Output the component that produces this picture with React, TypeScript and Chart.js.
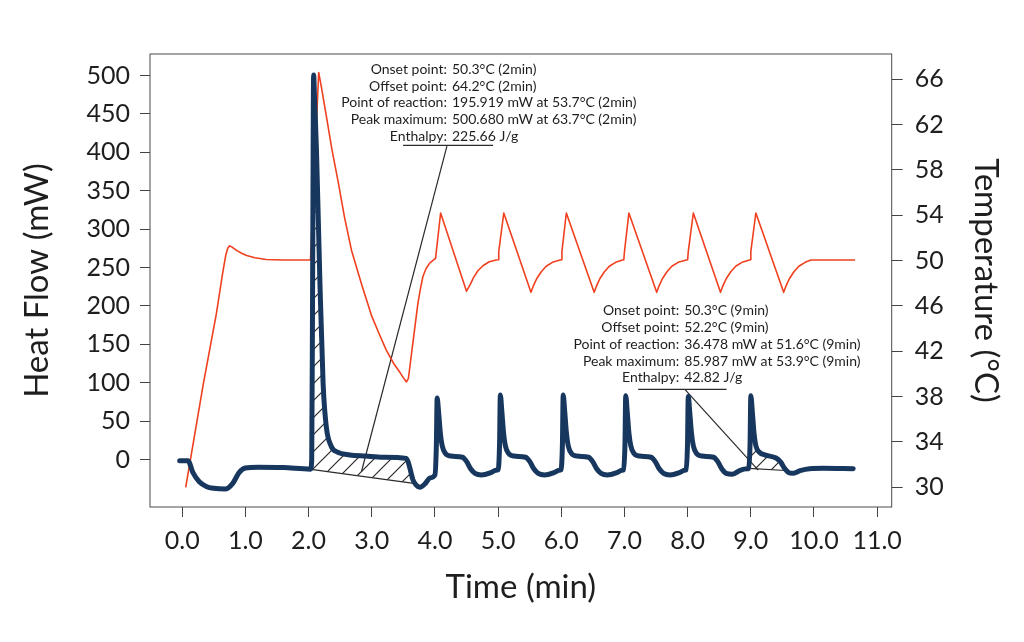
import React, { useEffect, useRef } from 'react';
import { Chart, registerables } from 'chart.js';

Chart.register(...registerables);

const FONT = 'Lato, "DejaVu Sans", sans-serif';
const NAVY = '#17375e';
const RED = '#f0401f';
const INK = '#1e1e1e';

const timeTicks = [0, 1, 2, 3, 4, 5, 6, 7, 8, 9, 10, 11];
const heatTicks = [0, 50, 100, 150, 200, 250, 300, 350, 400, 450, 500];
const tempTicks = [30, 34, 38, 42, 46, 50, 54, 58, 62, 66];

// heat flow (mW) against time (min)
const heatTime = [
  -0.04, 0.09, 0.17, 0.27, 0.38, 0.5, 0.68, 0.8, 0.9, 1.0, 1.2, 1.6, 2.03,
  2.05, 2.065, 2.08, 2.095, 2.125, 2.18, 2.23, 2.28, 2.36, 2.45, 2.65, 2.9, 3.18, 3.55,
  3.6, 3.65, 3.7, 3.76, 3.85, 3.92, 4.0,
  4.023, 4.035, 4.06, 4.085, 4.115, 4.165, 4.255, 4.435, 4.505, 4.565, 4.635, 4.735, 4.885, 4.965,
  5.0, 5.023, 5.035, 5.06, 5.085, 5.115, 5.165, 5.255, 5.435, 5.505, 5.565, 5.635, 5.735, 5.885, 5.965,
  5.995, 6.018, 6.03, 6.055, 6.08, 6.11, 6.16, 6.25, 6.43, 6.5, 6.56, 6.63, 6.73, 6.88, 6.96,
  6.985, 7.008, 7.02, 7.045, 7.07, 7.1, 7.15, 7.24, 7.42, 7.49, 7.55, 7.62, 7.72, 7.87, 7.95,
  7.975, 7.998, 8.01, 8.035, 8.06, 8.09, 8.14, 8.23, 8.41, 8.48, 8.54, 8.61, 8.71, 8.83, 8.94,
  8.965, 8.988, 9.0, 9.025, 9.05, 9.08, 9.13, 9.22, 9.4, 9.47, 9.53, 9.6, 9.66, 9.78, 9.93, 10.15, 10.62,
];
const heatFlow = [
  -1.5, -1.5, -17, -29, -35, -37.5, -38.5, -31, -17, -11, -10, -10.5, -12.5,
  0, 250, 500.7, 470, 403, 229, 99, 43, 17, 10, 6, 4.5, 3, 1.5,
  -10, -26, -33, -36, -31, -24, -20,
  20, 80, 60, 35, 18, 8, 4.5, 3, -3, -12, -18, -20, -17, -14,
  -13.5, 20, 84, 62, 36, 18, 8, 4.5, 3, -3, -12, -18, -20, -17, -14,
  -13.5, 20, 84, 62, 36, 18, 8, 4.5, 3, -3, -12, -18, -20, -17, -14,
  -13.5, 20, 83, 61, 35, 18, 8, 4.5, 3, -3, -12, -18, -20, -17, -14,
  -13.5, 20, 82, 60, 35, 18, 8, 4.5, 3, -3, -12, -18, -19, -14, -12,
  -11.5, 20, 83, 61, 35, 18, 10, 6, 2, -3, -11, -17, -18, -14.5, -12, -11.5, -12,
];

// sample temperature (°C) against time (min)
const tempTime = [
  0.055, 0.33, 0.54, 0.64, 0.69, 0.72, 0.75, 0.79, 0.86, 0.94, 1.02, 1.15, 1.33, 1.6, 2.03,
  2.16, 2.2, 2.28, 2.37, 2.47, 2.57, 2.68, 2.84, 3.0, 3.12, 3.23, 3.35, 3.45, 3.52, 3.55, 3.58,
  3.65, 3.73, 3.77, 3.81, 3.86, 3.92, 4.01, 4.02,
  4.09, 4.5, 4.56, 4.61, 4.68, 4.76, 4.86, 4.97,
  5.0, 5.01, 5.09, 5.52, 5.56, 5.61, 5.68, 5.76, 5.86, 5.98,
  6.0, 6.01, 6.08, 6.52, 6.56, 6.61, 6.68, 6.76, 6.86, 6.97,
  6.99, 7.0, 7.07, 7.51, 7.55, 7.6, 7.67, 7.75, 7.85, 7.98,
  8.0, 8.01, 8.09, 8.52, 8.56, 8.61, 8.68, 8.76, 8.86, 8.98,
  8.99, 9.0, 9.08, 9.52, 9.56, 9.61, 9.68, 9.76, 9.86, 9.95, 10.65,
];
const tempValue = [
  30.0, 39.0, 45.3, 48.9, 50.5, 51.1, 51.3, 51.2, 50.9, 50.65, 50.45, 50.25, 50.1, 50.05, 50.05,
  66.6, 65.4, 62.8, 59.8, 56.9, 53.8, 50.9, 47.9, 45.1, 43.5, 42.1, 40.9, 40.1, 39.5, 39.3, 39.6,
  42.7, 46.2, 47.5, 48.6, 49.3, 49.8, 50.2, 50.7,
  54.2, 47.3, 47.9, 48.5, 49.1, 49.55, 49.9, 50.06,
  50.08, 50.8, 54.2, 47.2, 47.8, 48.4, 49.0, 49.5, 49.85, 50.05,
  50.08, 50.8, 54.2, 47.2, 47.8, 48.4, 49.0, 49.5, 49.85, 50.05,
  50.08, 50.8, 54.2, 47.2, 47.8, 48.4, 49.0, 49.5, 49.85, 50.05,
  50.08, 50.8, 54.2, 47.2, 47.8, 48.4, 49.0, 49.5, 49.85, 50.05,
  50.08, 50.8, 54.2, 47.2, 47.8, 48.4, 49.0, 49.5, 49.85, 50.06, 50.06,
];

// integration baselines of the two evaluated peaks
const base1Time = [2.04, 3.665];
const base1Flow = [-12.8, -31];
const base2Time = [8.968, 9.55];
const base2Flow = [-11.5, -14.3];

// callout underlines and leader lines
const under1Time = [3.496, 4.92];
const under1Flow = [409, 409];
const lead1Time = [2.837, 4.19];
const lead1Flow = [-15.9, 408];
const under2Time = [7.217, 8.616];
const under2Flow = [91.4, 91.4];
const lead2Time = [7.956, 9.117];
const lead2Flow = [91.4, -13.7];

const noteLabels = ['Onset point:', 'Offset point:', 'Point of reaction:', 'Peak maximum:', 'Enthalpy:'];
const note1Values = ['50.3°C (2min)', '64.2°C (2min)', '195.919 mW at 53.7°C (2min)', '500.680 mW at 63.7°C (2min)', '225.66 J/g'];
const note2Values = ['50.3°C (9min)', '52.2°C (9min)', '36.478 mW at 51.6°C (9min)', '85.987 mW at 53.9°C (9min)', '42.82 J/g'];
const note1Anchor = { time: 4.19, flow: 508 };
const note2Anchor = { time: 7.866, flow: 193.7 };

const pts = (xs: number[], ys: number[]) => xs.map((x, i) => ({ x, y: ys[i] }));

// peak outline between the two baseline ends, closed onto the baseline
const hatchPts = (bt: number[], bf: number[]) => [
  { x: bt[0], y: bf[0] },
  ...pts(heatTime, heatFlow).filter((p) => p.x > bt[0] && p.x < bt[1]),
  { x: bt[1], y: bf[1] },
];

function makeHatch() {
  const size = 17;
  const c = document.createElement('canvas');
  c.width = size;
  c.height = size;
  const g = c.getContext('2d');
  if (!g) return 'rgba(0,0,0,0.15)';
  g.strokeStyle = '#2a2a2a';
  g.lineWidth = 1.2;
  g.beginPath();
  g.moveTo(-2, size + 2);
  g.lineTo(size + 2, -2);
  g.moveTo(-2, 2);
  g.lineTo(2, -2);
  g.moveTo(size - 2, size + 2);
  g.lineTo(size + 2, size - 2);
  g.stroke();
  return g.createPattern(c, 'repeat') || 'rgba(0,0,0,0.15)';
}

const framePlugin = {
  id: 'frame',
  afterDatasetsDraw(chart: any) {
    const { ctx, chartArea: a } = chart;
    ctx.save();
    ctx.strokeStyle = '#4a4a4a';
    ctx.lineWidth = 1;
    ctx.strokeRect(a.left, a.top, a.right - a.left, a.bottom - a.top);
    ctx.restore();
  },
};

const notesPlugin = {
  id: 'notes',
  afterDatasetsDraw(chart: any) {
    const { ctx, scales } = chart;
    const notes = [
      { anchor: note1Anchor, values: note1Values },
      { anchor: note2Anchor, values: note2Values },
    ];
    ctx.save();
    ctx.font = `14px ${FONT}`;
    ctx.fillStyle = INK;
    ctx.textBaseline = 'middle';
    notes.forEach((n) => {
      const x = scales.x.getPixelForValue(n.anchor.time);
      const y0 = scales.y.getPixelForValue(n.anchor.flow);
      noteLabels.forEach((label, i) => {
        const y = y0 + i * 16.8;
        ctx.textAlign = 'right';
        ctx.fillText(label, x, y);
        ctx.textAlign = 'left';
        ctx.fillText(n.values[i], x + 5, y);
      });
    });
    ctx.restore();
  },
};

const thin = (data: { x: number; y: number }[]) => ({
  data,
  yAxisID: 'y',
  borderColor: '#2a2a2a',
  borderWidth: 1.2,
  pointRadius: 0,
  fill: false,
  order: 2,
});

export default function App() {
  const canvasRef = useRef<HTMLCanvasElement>(null);
  const chartRef = useRef<Chart | null>(null);

  useEffect(() => {
    const ctx = canvasRef.current?.getContext('2d');
    if (!ctx) return;
    if (chartRef.current) chartRef.current.destroy();
    const hatch = makeHatch();

    const tickFont = { family: FONT, size: 25 };
    const titleFont = { family: FONT, size: 33 };
    const grid = { drawOnChartArea: false, drawTicks: true, tickLength: 10, color: '#444' };

    chartRef.current = new Chart(ctx, {
      type: 'line',
      data: {
        datasets: [
          {
            label: 'Heat Flow',
            data: pts(heatTime, heatFlow),
            yAxisID: 'y',
            borderColor: NAVY,
            borderWidth: 5,
            borderJoinStyle: 'round',
            borderCapStyle: 'round',
            cubicInterpolationMode: 'monotone',
            pointRadius: 0,
            fill: false,
            order: 0,
          },
          {
            label: 'Temperature',
            data: pts(tempTime, tempValue),
            yAxisID: 'y2',
            borderColor: RED,
            borderWidth: 1.6,
            tension: 0,
            borderJoinStyle: 'round',
            pointRadius: 0,
            fill: false,
            order: 1,
          },
          {
            data: hatchPts(base1Time, base1Flow),
            yAxisID: 'y',
            borderColor: 'rgba(0,0,0,0)',
            borderWidth: 0,
            backgroundColor: hatch,
            cubicInterpolationMode: 'monotone',
            pointRadius: 0,
            fill: { target: 3, above: hatch, below: hatch },
            order: 3,
          },
          thin(pts(base1Time, base1Flow)),
          {
            data: hatchPts(base2Time, base2Flow),
            yAxisID: 'y',
            borderColor: 'rgba(0,0,0,0)',
            borderWidth: 0,
            backgroundColor: hatch,
            cubicInterpolationMode: 'monotone',
            pointRadius: 0,
            fill: { target: 5, above: hatch, below: hatch },
            order: 3,
          },
          thin(pts(base2Time, base2Flow)),
          thin(pts(under1Time, under1Flow)),
          thin(pts(lead1Time, lead1Flow)),
          thin(pts(under2Time, under2Flow)),
          thin(pts(lead2Time, lead2Flow)),
        ],
      } as any,
      options: {
        responsive: false,
        animation: false,
        parsing: false,
        layout: { padding: { top: 54, left: 0, right: 0, bottom: 0 } },
        plugins: {
          legend: { display: false },
          tooltip: { enabled: false },
        },
        scales: {
          x: {
            type: 'linear',
            min: -0.51,
            max: 11.23,
            afterBuildTicks: (s: any) => {
              s.ticks = timeTicks.map((value) => ({ value }));
            },
            afterFit: (s: any) => {
              s.height = 135;
            },
            grid,
            border: { display: false },
            ticks: {
              color: INK,
              font: tickFont,
              padding: 9,
              maxRotation: 0,
              autoSkip: false,
              callback: (v: any) => Number(v).toFixed(1),
            },
            title: {
              display: true,
              text: 'Time (min)',
              color: INK,
              font: titleFont,
              padding: { top: 0, bottom: 35 },
            },
          },
          y: {
            type: 'linear',
            position: 'left',
            min: -61.8,
            max: 528,
            afterBuildTicks: (s: any) => {
              s.ticks = heatTicks.map((value) => ({ value }));
            },
            afterFit: (s: any) => {
              s.width = 150;
            },
            grid,
            border: { display: false },
            ticks: { color: INK, font: tickFont, padding: 10 },
            title: {
              display: true,
              text: 'Heat Flow (mW)',
              color: INK,
              font: titleFont,
              padding: { top: 18, bottom: 0 },
            },
          },
          y2: {
            type: 'linear',
            position: 'right',
            min: 28.26,
            max: 68.23,
            afterBuildTicks: (s: any) => {
              s.ticks = tempTicks.map((value) => ({ value }));
            },
            afterFit: (s: any) => {
              s.width = 132.3;
            },
            grid: { ...grid, tickLength: 11 },
            border: { display: false },
            ticks: { color: INK, font: tickFont, padding: 12 },
            title: {
              display: true,
              text: 'Temperature (°C)',
              color: INK,
              font: titleFont,
              padding: { top: 19, bottom: 0 },
            },
          },
        },
      } as any,
      plugins: [framePlugin, notesPlugin],
    });

    return () => {
      if (chartRef.current) {
        chartRef.current.destroy();
        chartRef.current = null;
      }
    };
  }, []);

  return (
    <div style={{ position: 'fixed', left: 0, top: 0, width: 1024, height: 642, background: '#fff' }}>
      <canvas ref={canvasRef} width={1024} height={642} />
    </div>
  );
}
